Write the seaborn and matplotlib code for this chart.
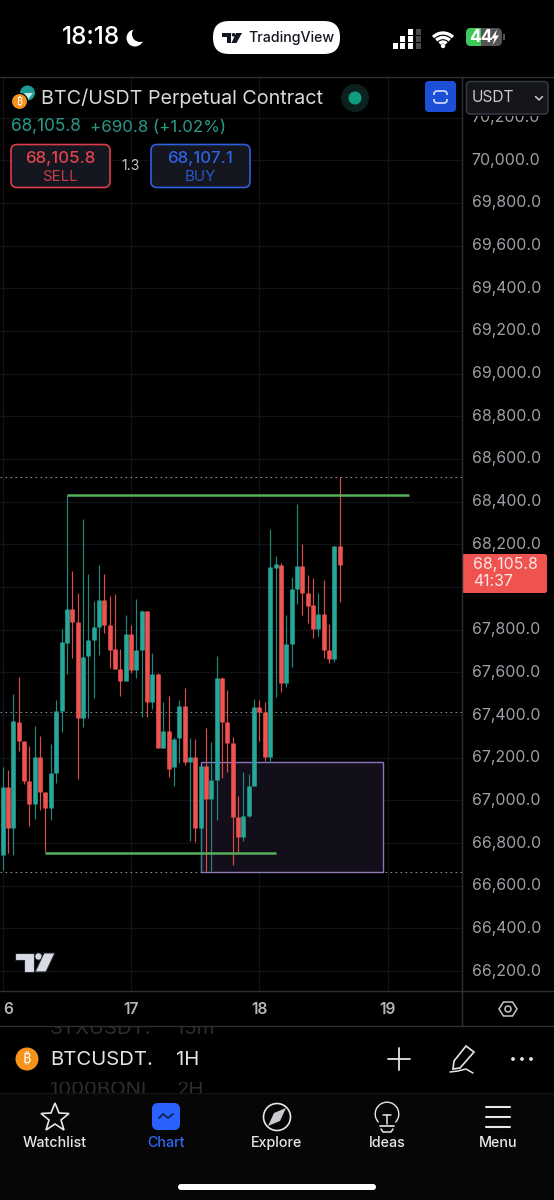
import matplotlib
matplotlib.use("Agg")
import matplotlib.pyplot as plt
from matplotlib.patches import Circle, FancyBboxPatch, Polygon, Rectangle, Wedge, Arc
from matplotlib.transforms import ScaledTranslation
import pandas as pd
import seaborn as sns

opens = [66745, 67065, 66873, 67369, 67279, 67091, 66982, 67205, 67041, 66966, 67127, 67419, 67736, 67899, 67836, 67385,
         67677, 67752, 67814, 67939, 67820, 67708, 67616, 67561, 67778, 67611, 67705, 67888, 67463, 67592, 67244, 67324,
         67158, 67291, 67444, 67182, 67205, 66870, 67162, 67005, 67096, 67572, 67366, 67271, 66924, 66827, 66929, 67068,
         67439, 67416, 67205, 68089, 68105, 67549, 67733, 67991, 68098, 67970, 67914, 67802, 67873, 67705, 67661, 68192]
highs = [67158, 67143, 67499, 67577, 67279, 67255, 67349, 67302, 67041, 67265, 67471, 67802, 68431, 68077, 67970, 68317,
         68059, 67934, 68105, 68061, 67958, 67966, 67708, 67869, 67820, 67942, 67892, 67888, 67689, 67599, 67463, 67489,
         67299, 67471, 67525, 67291, 67286, 67162, 67341, 67276, 67677, 67577, 67518, 67299, 67021, 67135, 67124, 67477,
         67471, 67460, 68270, 68145, 68111, 67867, 68048, 68387, 68201, 68056, 68041, 67973, 68033, 67827, 68192, 68514]
lows = [66674, 66755, 66745, 67232, 67077, 66881, 66912, 66955, 66760, 66906, 67080, 67322, 67592, 67666, 67102, 67343,
        67385, 67479, 67681, 67783, 67622, 67616, 67489, 67561, 67596, 67575, 67390, 67390, 67429, 67244, 67244, 67112,
        67068, 67174, 67166, 66810, 66807, 66667, 66667, 66667, 66909, 67104, 67135, 66698, 66760, 66812, 66924, 67068,
        67280, 67187, 67182, 67486, 67510, 67533, 67627, 67919, 67869, 67830, 67760, 67772, 67669, 67642, 67650, 67931]
closes = [67065, 66873, 67372, 67279, 67091, 66982, 67205, 67041, 66966, 67127, 67419, 67742, 67899, 67836, 67385, 67674,
          67752, 67814, 67939, 67820, 67706, 67616, 67561, 67778, 67611, 67705, 67888, 67463, 67592, 67244, 67324, 67148,
          67288, 67444, 67182, 67205, 66870, 67162, 67005, 67096, 67572, 67366, 67271, 66924, 66827, 66929, 67068, 67439,
          67416, 67205, 68092, 68108, 67549, 67733, 67991, 68098, 67970, 67913, 67802, 67873, 67705, 67661, 68192, 68105]

price_ticks = list(range(66200, 70400, 200))
hidden_ticks = [68000]  # sits behind the last price tag
day_ticks = [0, 24, 48, 72]
day_labels = ["6", "17", "18", "19"]
range_high = 68431
range_low = 66755
dotted_levels = [68514, 67416, 66664]
zone_prices = [66666, 67180]
zone_bars = [37.0, 71.1]

UP = "#27a69a"
DOWN = "#ef5350"
UP_WICK = "#1f877d"
DOWN_WICK = "#d94c48"
GRID = "#111316"
LINE = "#2c2f35"
LABEL = "#9da0a6"
COIN_FONT = ["Noto Sans", "Open Sans", "Roboto", "Lato", "Liberation Sans", "DejaVu Sans"]

W, H = 554, 1200
sns.set_theme(style="dark", rc={"axes.facecolor": "black", "figure.facecolor": "black"})
plt.rcParams["font.family"] = ["Inter", "DejaVu Sans"]
plt.rcParams["patch.force_edgecolor"] = False

fig = plt.figure(figsize=(W / 100, H / 100), dpi=100)
# main chart, pixel box 0..462 x 77..991
ax = fig.add_axes([0, 1 - 991 / H, 462 / W, (991 - 77) / H])

idx = list(range(len(opens)))
direction = ["up" if c >= o else "down" for o, c in zip(opens, closes)]
base = pd.DataFrame({"idx": idx, "dir": direction, "open": opens, "high": highs, "low": lows, "close": closes})
wicks = base.melt(id_vars=["idx", "dir"], value_vars=["low", "high"], value_name="price")
bodies = base.melt(id_vars=["idx", "dir"], value_vars=["open", "close"], value_name="price")

ax.add_patch(Rectangle((zone_bars[0], zone_prices[0]), zone_bars[1] - zone_bars[0], zone_prices[1] - zone_prices[0],
                       facecolor="#120f1a", edgecolor="#8f72c4", lw=1.0, zorder=1))

sns.lineplot(data=wicks, x="idx", y="price", hue="dir", units="idx", estimator=None, legend=False, ax=ax,
             palette={"up": UP_WICK, "down": DOWN_WICK}, lw=0.85, solid_capstyle="butt", zorder=2)
sns.lineplot(data=bodies, x="idx", y="price", hue="dir", units="idx", estimator=None, legend=False, ax=ax,
             palette={"up": UP, "down": DOWN}, lw=3.3, solid_capstyle="butt", zorder=3)

green = pd.DataFrame({"x": [12, 76, 8, 51], "y": [range_high, range_high, range_low, range_low], "u": [0, 0, 1, 1]})
sns.lineplot(data=green, x="x", y="y", units="u", estimator=None, color="#56b05a", lw=1.8, ax=ax,
             solid_capstyle="butt", zorder=4)

for level in dotted_levels:
    ax.axhline(level, color="#8a8a8a", lw=0.8, ls=(0, (1.5, 3)), zorder=2)

ax.set_xlim(-0.5, 85.86)
ax.set_ylim(66107, 70390)
ax.set_xlabel("")
ax.set_ylabel("")
ax.yaxis.tick_right()
ax.set_yticks(price_ticks)
ax.set_yticklabels(["" if p in hidden_ticks else f"{p:,}.0" for p in price_ticks], color=LABEL, fontsize=11.4)
ax.set_xticks(day_ticks)
ax.set_xticklabels([])
ax.tick_params(axis="y", length=0, pad=7, right=False)
ax.tick_params(axis="x", length=0)
ax.grid(True, color=GRID, lw=0.9)
ax.set_axisbelow(True)
for s in ax.spines.values():
    s.set_visible(False)
# labels sit a little above their grid lines
for lbl in ax.get_yticklabels():
    lbl.set_transform(lbl.get_transform() + ScaledTranslation(0, 1.5 / 100, fig.dpi_scale_trans))

# app chrome drawn in screen pixels on top of the chart
ui = fig.add_axes([0, 0, 1, 1], zorder=5)
ui.set_xlim(0, W)
ui.set_ylim(H, 0)
ui.axis("off")
ui.patch.set_alpha(0)


def txt(x, y, s, color="white", size=11, ha="center", weight="normal", **kw):
    return ui.text(x, y, s, color=color, fontsize=size, ha=ha, va="center", fontweight=weight, **kw)


def box(x0, y0, x1, y1, fc, ec="none", lw=1.0, r=4.0, **kw):
    p = FancyBboxPatch((x0 + r, y0 + r), x1 - x0 - 2 * r, y1 - y0 - 2 * r, boxstyle=f"round,pad={r},rounding_size={r}",
                       fc=fc, ec=ec, lw=lw, **kw)
    ui.add_patch(p)
    return p


def ghost(x, y, s, clip):
    t = txt(x, y, s, color="#2e2e30", size=14.6, ha="left")
    t.set_clip_on(True)
    t.set_clip_path(clip)


# masks
ui.add_patch(Rectangle((0, 0), W, 77, fc="black", ec="none"))
ui.add_patch(Rectangle((462, 77), 92, 39, fc="black", ec="none"))
ui.add_patch(Rectangle((0, 991), W, 209, fc="black", ec="none"))
ui.add_patch(Rectangle((0, 1093), W, 107, fc="#060607", ec="none"))

ui.plot([0, W], [76.5, 76.5], color=LINE, lw=1)
ui.plot([0, W], [990.5, 990.5], color=LINE, lw=1)
ui.plot([0, W], [1026, 1026], color=LINE, lw=1)
ui.plot([462, 462], [77, 1026], color=LINE, lw=1)
ui.plot([0, W], [1093, 1093], color="#141416", lw=1)

# status bar
txt(91, 38, "18:18", size=17.5, weight="medium")
ui.add_patch(Circle((135, 38), 8.5, fc="white", ec="none"))
ui.add_patch(Circle((140, 34), 8, fc="black", ec="none"))
box(213, 21, 340, 54, "white", r=16)
ui.add_patch(Polygon([(222, 33), (231, 33), (231, 43), (227, 43), (227, 36.5), (222, 36.5)], fc="#131722"))
ui.add_patch(Circle((233.5, 34.8), 1.8, fc="#131722"))
ui.add_patch(Polygon([(236, 33), (242, 33), (236.5, 43), (231.5, 43)], fc="#131722"))
txt(248, 38, "TradingView", color="#131722", size=10.2, ha="left", weight="medium")
for col, xs in enumerate([395, 402, 410, 418]):
    for row, ys in enumerate([43, 36, 29]):
        if row > col or (row == 2 and col == 0):
            continue
        ui.add_patch(Rectangle((xs - 2.5, ys), 5, 5.5, fc="#4a4a4a" if col == 3 else "white", ec="none"))
for r in [14, 9.5, 5]:
    ui.add_patch(Arc((443, 47), 2 * r, 2 * r, theta1=225, theta2=315, color="white", lw=2.4))
ui.add_patch(Circle((443, 46), 2.2, fc="white"))
box(466, 28, 502, 46, "#555555", r=5)
box(466, 28, 481, 46, "#3dc95a", r=5)
ui.add_patch(Rectangle((476, 28), 5, 18, fc="#3dc95a", ec="none"))
txt(481, 37.5, "44", size=12.5, weight="bold")
ui.add_patch(Polygon([(497, 29.5), (491, 38.5), (494.5, 38.5), (492.5, 45), (499, 35.5), (495.5, 35.5)], fc="white"))
ui.add_patch(Rectangle((503, 34), 2, 6, fc="#555555"))

# header
ui.add_patch(Circle((27.5, 93), 7.5, fc="#1e9a96"))
ui.add_patch(Polygon([(24, 93), (33, 93), (28.5, 99)], fc="#bfe9e6"))
ui.add_patch(Circle((19.5, 101.5), 8, fc="#f7931a", ec="black", lw=0.8))
txt(19.5, 102, "₿", size=7.5, weight="bold", family=COIN_FONT)
txt(41, 98, "BTC/USDT Perpetual Contract", color="#d9dade", size=14.2, ha="left")
ui.add_patch(Circle((355, 98), 14, fc="#0c211e"))
ui.add_patch(Circle((355, 98), 6.5, fc="#0f9d80"))
box(425, 81, 456, 112, "#1b4fd6", r=4)
box(434, 91, 447, 103, "none", ec="#d6def5", lw=1.2, r=3)
ui.add_patch(Rectangle((432, 95), 17, 3.5, fc="#1b4fd6", ec="none", zorder=4))
box(466.5, 81.5, 548, 114, "#14161b", ec="#33363d", lw=1.2, r=4)
txt(472, 98, "USDT", color="#c9cbd0", size=11.1, ha="left")
ui.plot([535.5, 539, 542.5], [96.5, 100, 96.5], color="#c9cbd0", lw=1.1)

txt(11, 127, "68,105.8", color="#2a9a88", size=12.4, ha="left")
txt(90, 127, "+690.8 (+1.02%)", color="#2a9a88", size=12.2, ha="left")
box(11, 144.5, 110, 187.5, "#14171f", ec="#dc3d4b", lw=1.2, r=6)
txt(60, 158, "68,105.8", color="#e2434f", size=12.2, weight="medium")
txt(60, 177, "SELL", color="#c93c48", size=10.8)
txt(131, 166, "1.3", color="#c8c8c8", size=10)
box(151, 144.5, 250, 187.5, "#14171f", ec="#2f5fdc", lw=1.2, r=6)
txt(200, 158, "68,107.1", color="#2f62e6", size=12.2, weight="medium")
txt(200, 177, "BUY", color="#2b58c8", size=10.8)

# last price tag
box(462, 554, 547, 593, "#ef5350", r=2.5)
txt(473, 564, "68,105.8", size=11.4, ha="left", color="#fbe6e5")
txt(473, 581, "41:37", size=11.4, ha="left", color="#fbe6e5")

# watermark
ui.add_patch(Polygon([(15, 953), (34, 953), (34, 972), (24, 972), (24, 960), (15, 960)], fc="#d8dbe6", ec="#23262e", lw=0.8))
ui.add_patch(Circle((38.5, 956.5), 3.6, fc="#d8dbe6", ec="#23262e", lw=0.6))
ui.add_patch(Polygon([(44, 953), (55, 953), (46, 972), (35, 972)], fc="#d8dbe6", ec="#23262e", lw=0.8))

# time axis, positions taken from the chart's own scale
for d, lab in zip(day_ticks, day_labels):
    px = ax.transData.transform((d, 67000))[0]
    txt(7.8 if lab == "6" else px, 1009, lab, color="#b3b5ba", size=11.2, weight="semibold")
ui.add_patch(Polygon([(499, 1009), (503.5, 1002), (512.5, 1002), (517, 1009), (512.5, 1016), (503.5, 1016)],
                     fc="none", ec="#c4c6ca", lw=1.1))
ui.add_patch(Circle((508, 1009), 3, fc="none", ec="#c4c6ca", lw=1.1))

# symbol row, neighbours half hidden by the list window
clip_a = Rectangle((0, 1027), W, 12, transform=ui.transData)
clip_b = Rectangle((0, 1082), W, 11, transform=ui.transData)
ghost(50, 1029, "STXUSDT.", clip_a)
ghost(176, 1029, "15m", clip_a)
ghost(50, 1090, "1000BONI", clip_b)
ghost(176, 1090, "2H", clip_b)
ui.add_patch(Circle((27, 1059), 11.5, fc="#f7931a"))
txt(27, 1059.5, "₿", size=10.5, weight="bold", family=COIN_FONT)
txt(50, 1060, "BTCUSDT.", color="#e4e5e8", size=14.6, ha="left")
txt(176, 1060, "1H", color="#e4e5e8", size=14.6, ha="left")
ui.plot([388, 410], [1059, 1059], color="#e4e5e8", lw=1.3)
ui.plot([399, 399], [1048, 1070], color="#e4e5e8", lw=1.3)
ui.add_patch(Polygon([(466, 1046), (474, 1052), (460, 1068), (453, 1069), (454, 1061)], fc="none", ec="#e4e5e8", lw=1.2))
ui.plot([450, 458, 466, 473], [1072, 1071, 1069, 1073], color="#e4e5e8", lw=1.1)
for x in [513, 522, 531]:
    ui.add_patch(Circle((x, 1059), 1.9, fc="#e4e5e8"))

# nav bar
NAV = "#e6e7ea"
ui.add_patch(Polygon([(55, 1103), (59, 1113), (69, 1113.5), (61, 1120), (64, 1130), (55, 1124), (46, 1130), (49, 1120),
                      (41, 1113.5), (51, 1113)], fc="none", ec=NAV, lw=1.2))
txt(55, 1143, "Watchlist", color=NAV, size=10.3, weight="medium")
box(152, 1103, 180, 1130, "#2962ff", r=6)
ui.plot([159, 163, 168, 173], [1118, 1114, 1118, 1114], color="#10204f", lw=1.3)
txt(166, 1143, "Chart", color="#2f66f5", size=10.3, weight="medium")
ui.add_patch(Circle((277, 1117), 13.5, fc="none", ec=NAV, lw=1.2))
ui.add_patch(Polygon([(286, 1108), (280, 1121), (268, 1126), (274, 1113)], fc="#c9cbd0"))
txt(277, 1143, "Explore", color=NAV, size=10.3, weight="medium")
ui.add_patch(Wedge((387, 1114), 12.5, 135, 45, width=1.4, fc=NAV))
ui.plot([383, 391], [1115, 1115], color=NAV, lw=1.1)
ui.plot([387, 387], [1115, 1124], color=NAV, lw=1.1)
ui.plot([380, 394], [1126, 1126], color=NAV, lw=1.2)
ui.plot([381, 383, 391, 393], [1129, 1132, 1132, 1129], color=NAV, lw=1.1)
txt(387, 1143, "Ideas", color=NAV, size=10.3, weight="medium")
for y in [1107, 1117, 1127]:
    ui.plot([486, 510], [y, y], color=NAV, lw=1.5)
txt(498, 1143, "Menu", color=NAV, size=10.3, weight="medium")
box(178, 1184, 376, 1190, "white", r=3)

fig.savefig("out.png", dpi=100, facecolor="black")
